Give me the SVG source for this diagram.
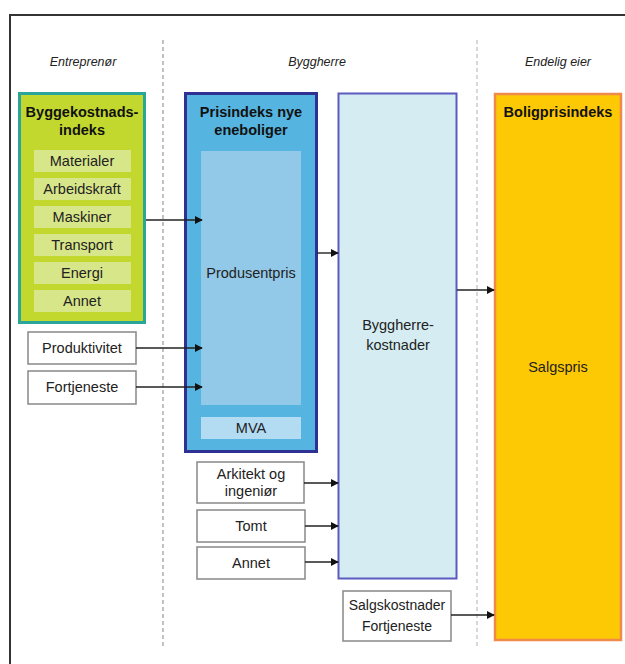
<svg xmlns="http://www.w3.org/2000/svg" width="625" height="664" viewBox="0 0 625 664">
<defs>
<style>
text{font-family:"Liberation Sans",Arial,sans-serif;fill:#222;text-anchor:middle}
.hd{font-size:12.5px;font-style:italic}
.t{font-size:14.5px;font-weight:bold;fill:#111}
.r{font-size:14.5px}
.s{font-size:14px}
.item{fill:#d8e68a}
.wb{fill:#fff;stroke:#888;stroke-width:1.5}
.cn{stroke:#222;stroke-width:1.4;fill:none;marker-end:url(#ah)}
</style>
<marker id="ah" viewBox="0 0 10 10" refX="9" refY="5" markerWidth="8" markerHeight="8" markerUnits="userSpaceOnUse" orient="auto">
<path d="M0,0 L10,5 L0,10 z" fill="#111"/>
</marker>
</defs>
<rect width="625" height="664" fill="#fff"/>
<path d="M10,664 V15 H625" fill="none" stroke="#333" stroke-width="2"/>
<line x1="163" y1="40" x2="163" y2="648" stroke="#999" stroke-width="1.2" stroke-dasharray="4,3"/>
<line x1="477" y1="40" x2="477" y2="648" stroke="#ccc" stroke-width="1.5" stroke-dasharray="4,3"/>
<text class="hd" x="83" y="66">Entreprenør</text>
<text class="hd" x="317" y="66">Byggherre</text>
<text class="hd" x="558" y="66">Endelig eier</text>

<g id="byggekostnadsindeks">
<rect x="19.5" y="93.5" width="125" height="229" fill="#c3d82e" stroke="#2aa59a" stroke-width="3"/>
<text class="t" x="82" y="117">Byggekostnads-</text>
<text class="t" x="82" y="135">indeks</text>
<rect class="item" x="34" y="150" width="97" height="22"/><text class="r" x="82" y="166">Materialer</text>
<rect class="item" x="34" y="178" width="97" height="22"/><text class="r" x="82" y="194">Arbeidskraft</text>
<rect class="item" x="34" y="206" width="97" height="22"/><text class="r" x="82" y="222">Maskiner</text>
<rect class="item" x="34" y="234" width="97" height="22"/><text class="r" x="82" y="250">Transport</text>
<rect class="item" x="34" y="262" width="97" height="22"/><text class="r" x="82" y="278">Energi</text>
<rect class="item" x="34" y="290" width="97" height="22"/><text class="r" x="82" y="306">Annet</text>
</g>

<g id="produktivitet">
<rect class="wb" x="28" y="332" width="108" height="32"/>
<text class="r" x="82" y="353">Produktivitet</text>
</g>
<g id="fortjeneste">
<rect class="wb" x="28" y="371" width="108" height="33"/>
<text class="r" x="82" y="392">Fortjeneste</text>
</g>

<g id="prisindeks">
<rect x="185.5" y="93.5" width="131" height="358" fill="#55b4e0" stroke="#2e3192" stroke-width="3"/>
<text class="t" x="251" y="117">Prisindeks nye</text>
<text class="t" x="251" y="135">eneboliger</text>
<rect x="201" y="151" width="100" height="254" fill="#93c9e8"/>
<text class="r" x="251" y="278">Produsentpris</text>
<rect x="201" y="417" width="100" height="22" fill="#b3dbf2"/>
<text class="r" x="251" y="433">MVA</text>
</g>

<g id="byggherrekostnader">
<rect x="338.5" y="93.5" width="118" height="485" fill="#d5edf2" stroke="#5a5abf" stroke-width="2"/>
<text class="r" x="398" y="330">Byggherre-</text>
<text class="r" x="398" y="350">kostnader</text>
</g>

<g id="arkitekt">
<rect class="wb" x="197" y="462" width="107" height="41"/>
<text class="r" x="251" y="479">Arkitekt og</text>
<text class="r" x="251" y="496">ingeniør</text>
</g>
<g id="tomt">
<rect class="wb" x="197" y="510" width="108" height="32"/>
<text class="r" x="251" y="531">Tomt</text>
</g>
<g id="annet">
<rect class="wb" x="197" y="547" width="108" height="32"/>
<text class="r" x="251" y="568">Annet</text>
</g>

<g id="salgskostnader">
<rect class="wb" x="343" y="591" width="108" height="50"/>
<text class="s" x="397" y="610">Salgskostnader</text>
<text class="s" x="397" y="631">Fortjeneste</text>
</g>

<g id="boligprisindeks">
<rect x="495" y="94" width="126" height="546" fill="#fdc804" stroke="#f08a4b" stroke-width="2.5"/>
<text class="t" x="558" y="117">Boligprisindeks</text>
<text class="r" x="558" y="372">Salgspris</text>
</g>

<g id="connectors">
<line class="cn" x1="146" y1="220" x2="202" y2="220"/>
<line class="cn" x1="136" y1="348" x2="202" y2="348"/>
<line class="cn" x1="136" y1="387" x2="202" y2="387"/>
<line class="cn" x1="317" y1="253" x2="338" y2="253"/>
<line class="cn" x1="457" y1="290" x2="494" y2="290"/>
<line class="cn" x1="304" y1="483" x2="338" y2="483"/>
<line class="cn" x1="305" y1="526" x2="338" y2="526"/>
<line class="cn" x1="305" y1="562" x2="338" y2="562"/>
<line class="cn" x1="451" y1="615" x2="494" y2="615"/>
</g>
</svg>
